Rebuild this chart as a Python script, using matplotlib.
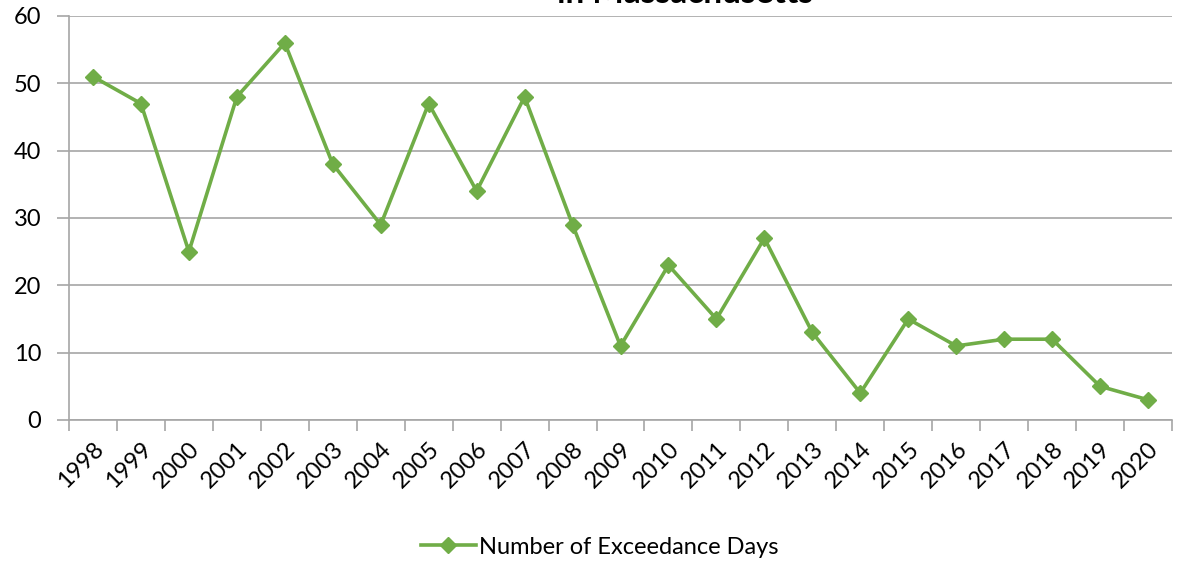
import matplotlib.pyplot as plt

years = [str(y) for y in range(1998, 2021)]
exceedance_days = [51, 47, 25, 48, 56, 38, 29, 47, 34, 48, 29, 11,
                   23, 15, 27, 13, 4, 15, 11, 12, 12, 5, 3]

plt.rcParams["font.family"] = ["Lato", "DejaVu Sans"]

W, H = 1179, 561
fig = plt.figure(figsize=(W / 100, H / 100), dpi=100)
ax = fig.add_axes([69 / W, 1 - 420 / H, (1172 - 69) / W, (420 - 16) / H])

green = "#70AD47"
grid_c = "#A6A6A6"

x = list(range(len(years)))
line, = ax.plot(x, exceedance_days, color=green, linewidth=2.6,
                marker="D", markersize=8, label="Number of Exceedance Days",
                clip_on=False, zorder=5)

ax.set_ylim(0, 60)
ax.set_yticks(range(0, 61, 10))
ax.set_xlim(-0.5, len(years) - 0.5)

# tick marks at category boundaries, labels at centres
ax.set_xticks([i - 0.5 for i in range(len(years) + 1)], minor=True)
ax.set_xticks(x)
ax.set_xticklabels(years, rotation=45, ha="right", va="top",
                   rotation_mode="anchor", fontsize=17)
ax.tick_params(axis="x", which="major", length=0, pad=13)
ax.tick_params(axis="x", which="minor", length=8, color=grid_c, width=1.2)
ax.tick_params(axis="y", length=9, color=grid_c, width=1.2, labelsize=17, pad=11)

ax.grid(axis="y", color=grid_c, linewidth=1.2)
ax.set_axisbelow(True)
for s in ["top", "right"]:
    ax.spines[s].set_visible(False)
for s in ["left", "bottom"]:
    ax.spines[s].set_color(grid_c)
    ax.spines[s].set_linewidth(1.2)

# title sits mostly above the visible area, as in the source image
fig.text(685 / W, 1 - 3 / H, "in Massachusetts", ha="center", va="baseline",
         fontsize=24, fontweight="bold")

fig.legend(handles=[line], loc="center", bbox_to_anchor=(600 / W, 1 - 547 / H),
           frameon=False, fontsize=17, handlelength=2.3, handletextpad=0.15)

fig.savefig("out.png", dpi=100)
